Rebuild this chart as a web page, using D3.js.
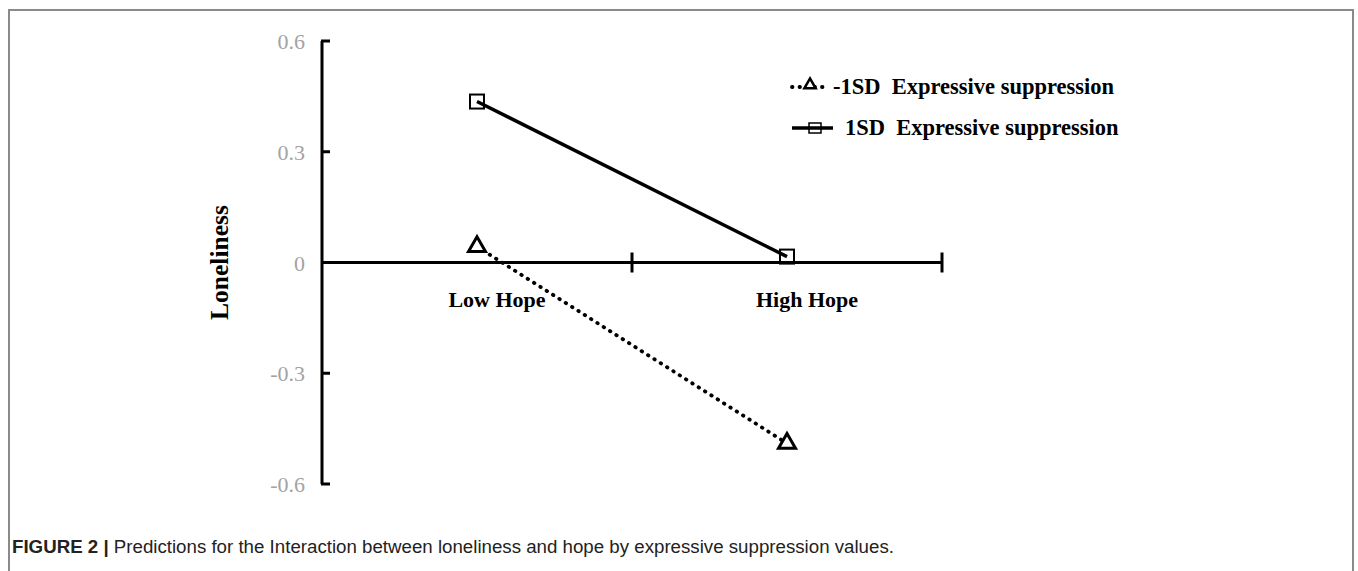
<!DOCTYPE html>
<html>
<head>
<meta charset="utf-8">
<script src="https://cdn.jsdelivr.net/npm/d3@7"></script>
<style>
body { margin: 0; background: #fff; }
</style>
</head>
<body>
<script>
var width = 1358, height = 571;

// data
var categories = ["Low Hope", "High Hope"];
var lowSD = [0.043, -0.49];    // -1SD Expressive suppression
var highSD = [0.436, 0.016];   // 1SD Expressive suppression
var yTicks = [0.6, 0.3, 0, -0.3, -0.6];
var yTickLabels = ["0.6", "0.3", "0", "-0.3", "-0.6"];
var seriesNames = ["-1SD  Expressive suppression", "1SD  Expressive suppression"];

var svg = d3.select("body").append("svg")
	.attr("width", width)
	.attr("height", height);

// frame around the figure
svg.append("path")
	.attr("d", "M9,571 V10 H1353 V571")
	.attr("fill", "none")
	.attr("stroke", "#8a8a8a")
	.attr("stroke-width", 2);

var x = d3.scaleBand().domain(categories).range([322, 942]);
var y = d3.scaleLinear().domain([-0.6, 0.6]).range([484, 41]);

var serif = "'Liberation Serif', 'Times New Roman', serif";

// y axis line
svg.append("line")
	.attr("x1", 322).attr("x2", 322)
	.attr("y1", y(0.6)).attr("y2", y(-0.6))
	.attr("stroke", "#000").attr("stroke-width", 3);

svg.selectAll(".ytick").data(yTicks).enter().append("line")
	.attr("x1", 321).attr("x2", 330)
	.attr("y1", function(d){ return y(d); })
	.attr("y2", function(d){ return y(d); })
	.attr("stroke", "#000").attr("stroke-width", 3);

svg.selectAll(".ylab").data(yTicks).enter().append("text")
	.attr("x", 305)
	.attr("y", function(d){ return y(d) + 8; })
	.attr("text-anchor", "end")
	.attr("font-family", serif)
	.attr("font-size", 22)
	.attr("fill", "#a3a3a3")
	.text(function(d, i){ return yTickLabels[i]; });

// x axis at zero
svg.append("line")
	.attr("x1", 322).attr("x2", 942)
	.attr("y1", y(0)).attr("y2", y(0))
	.attr("stroke", "#000").attr("stroke-width", 3);

var bounds = categories.map(function(c){ return x(c) + x.bandwidth(); });
svg.selectAll(".xtick").data(bounds).enter().append("line")
	.attr("x1", function(d){ return d; }).attr("x2", function(d){ return d; })
	.attr("y1", y(0) - 10).attr("y2", y(0) + 10)
	.attr("stroke", "#000").attr("stroke-width", 3);

// category labels sit a little right of the points
svg.selectAll(".xlab").data(categories).enter().append("text")
	.attr("x", function(d){ return x(d) + x.bandwidth() / 2 + 20; })
	.attr("y", y(0) + 44)
	.attr("text-anchor", "middle")
	.attr("font-family", serif)
	.attr("font-weight", "bold")
	.attr("font-size", 22)
	.text(function(d){ return d; });

svg.append("text")
	.attr("transform", "translate(228," + y(0) + ") rotate(-90)")
	.attr("text-anchor", "middle")
	.attr("font-family", serif)
	.attr("font-weight", "bold")
	.attr("font-size", 25.5)
	.text("Loneliness");

var cx = function(d, i){ return x(categories[i]) + x.bandwidth() / 2; };
var line = d3.line().x(cx).y(function(d){ return y(d); });

// -1SD dotted
svg.append("path")
	.datum(lowSD)
	.attr("d", line)
	.attr("fill", "none")
	.attr("stroke", "#000")
	.attr("stroke-width", 3.8)
	.attr("stroke-linecap", "round")
	.attr("stroke-dasharray", "0.5,7");

// 1SD solid
svg.append("path")
	.datum(highSD)
	.attr("d", line)
	.attr("fill", "none")
	.attr("stroke", "#000")
	.attr("stroke-width", 3.5);

var tri = d3.symbol().type(d3.symbolTriangle).size(125);

svg.selectAll(".tri").data(lowSD).enter().append("path")
	.attr("d", tri)
	.attr("transform", function(d, i){ return "translate(" + cx(d, i) + "," + y(d) + ")"; })
	.attr("fill", "#fff")
	.attr("stroke", "#000")
	.attr("stroke-width", 3);

svg.selectAll(".sq").data(highSD).enter().append("rect")
	.attr("x", function(d, i){ return cx(d, i) - 7; })
	.attr("y", function(d){ return y(d) - 7; })
	.attr("width", 14).attr("height", 14)
	.attr("fill", "none")
	.attr("stroke", "#000")
	.attr("stroke-width", 2);

// legend
var lg = svg.append("g").attr("transform", "translate(792,0)");
lg.append("line").attr("x1", 0).attr("x2", 32).attr("y1", 87).attr("y2", 87)
	.attr("stroke", "#000").attr("stroke-width", 3.8)
	.attr("stroke-linecap", "round").attr("stroke-dasharray", "0.5,7");
lg.append("path").attr("d", tri.size(55))
	.attr("transform", "translate(18,85)")
	.attr("fill", "#fff").attr("stroke", "#000").attr("stroke-width", 2.5);
lg.append("line").attr("x1", 0).attr("x2", 41).attr("y1", 128).attr("y2", 128)
	.attr("stroke", "#000").attr("stroke-width", 3.5);
lg.append("rect").attr("x", 17).attr("y", 123).attr("width", 12).attr("height", 10)
	.attr("fill", "none").attr("stroke", "#000").attr("stroke-width", 1.5);
lg.selectAll(".lt").data(seriesNames).enter().append("text")
	.attr("x", function(d, i){ return i === 0 ? 41 : 53; })
	.attr("y", function(d, i){ return 94 + i * 41; })
	.attr("font-family", serif)
	.attr("font-weight", "bold")
	.attr("font-size", 22.5)
	.attr("xml:space", "preserve")
	.style("white-space", "pre")
	.text(function(d){ return d; });

// caption
var cap = svg.append("text")
	.attr("x", 12).attr("y", 553)
	.attr("font-family", "'Liberation Sans', Arial, sans-serif")
	.attr("font-size", 18.7)
	.attr("fill", "#222");
cap.append("tspan").attr("font-weight", "bold").text("FIGURE 2 | ");
cap.append("tspan").text("Predictions for the Interaction between loneliness and hope by expressive suppression values.");
</script>
</body>
</html>
